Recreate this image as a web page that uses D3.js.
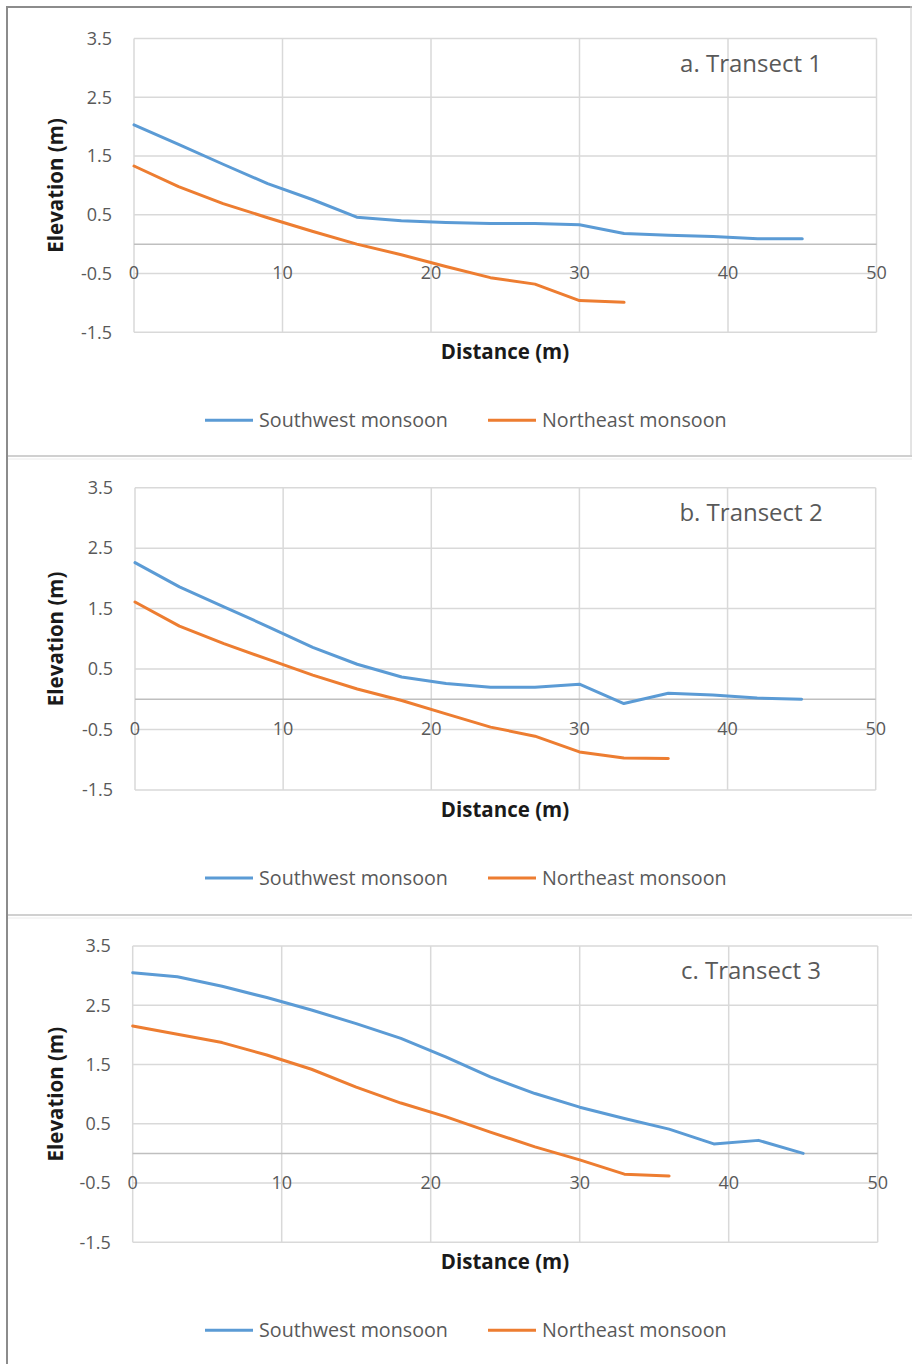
<!DOCTYPE html>
<html lang="en">
<head>
<meta charset="UTF-8">
<title>Beach profiles - Transects 1-3</title>
<script src="https://cdn.jsdelivr.net/npm/d3@7"></script>
<style>
    body{ margin:0; background:#fff; }
    text{ font-family:"Open Sans", sans-serif; }
    .tick-label{ fill:#595959; font-size:18px; }
    .axis-title{ fill:#1a1a1a; font-size:20.5px; font-weight:bold; }
    .legend-text{ fill:#595959; font-size:19.7px; }
    .panel-title{ fill:#595959; font-size:24px; }
</style>
</head>
<body>
<div class="container"></div>
<script>
    // distance along the transect (m), one survey point every 3 m
    const distance = [0,3,6,9,12,15,18,21,24,27,30,33,36,39,42,45]

    // elevations (m)
    const t1_southwest = [2.03,1.70,1.36,1.03,0.76,0.46,0.40,0.37,0.35,0.35,0.33,0.18,0.15,0.13,0.09,0.09]
    const t1_northeast = [1.33,0.98,0.69,0.45,0.22,0.00,-0.18,-0.38,-0.57,-0.68,-0.96,-0.99]
    const t2_southwest = [2.26,1.86,1.53,1.20,0.86,0.58,0.37,0.26,0.20,0.20,0.25,-0.07,0.10,0.07,0.02,0.00]
    const t2_northeast = [1.61,1.21,0.92,0.66,0.40,0.17,-0.02,-0.24,-0.46,-0.61,-0.87,-0.97,-0.98]
    const t3_southwest = [3.05,2.98,2.82,2.63,2.42,2.19,1.94,1.63,1.29,1.01,0.78,0.59,0.41,0.16,0.22,0.00]
    const t3_northeast = [2.15,2.01,1.87,1.66,1.42,1.12,0.85,0.62,0.36,0.11,-0.11,-0.35,-0.38]

    const panelTitles = ["a. Transect 1","b. Transect 2","c. Transect 3"]
    const seriesNames = ["Southwest monsoon","Northeast monsoon"]
    const seriesColors = ["#5b9bd5","#ed7d31"]
    const yTicks = [3.5,2.5,1.5,0.5,-0.5,-1.5]
    const xTicks = [0,10,20,30,40,50]

    const panels = [
        {title:panelTitles[0], sw:t1_southwest, ne:t1_northeast},
        {title:panelTitles[1], sw:t2_southwest, ne:t2_northeast},
        {title:panelTitles[2], sw:t3_southwest, ne:t3_northeast}
    ]
    // pixel frame of each plot area
    const frames = [
        {x0:134, x1:876.5, top:38.5, bottom:332.3},
        {x0:135, x1:875.7, top:487.7, bottom:790},
        {x0:132.7, x1:877.7, top:946, bottom:1242.3}
    ]

    const W = 912, H = 1364
    const svg = d3.select(".container").append("svg")
        .attr("width",W).attr("height",H)

    // outer frame and separators
    svg.append("line").attr("x1",7).attr("x2",7).attr("y1",6).attr("y2",H)
        .attr("stroke","#8c8c8c").attr("stroke-width",2)
    svg.append("line").attr("x1",6).attr("x2",W).attr("y1",7).attr("y2",7)
        .attr("stroke","#8c8c8c").attr("stroke-width",2)
    svg.append("line").attr("x1",W-1).attr("x2",W-1).attr("y1",6).attr("y2",456)
        .attr("stroke","#c8c8c8").attr("stroke-width",1)
    ;[456,915].forEach(y=>{
        svg.append("line").attr("x1",8).attr("x2",W).attr("y1",y).attr("y2",y)
            .attr("stroke","#d0d0d0").attr("stroke-width",2)
        svg.append("line").attr("x1",8).attr("x2",W).attr("y1",y+3).attr("y2",y+3)
            .attr("stroke","#ececec").attr("stroke-width",1)
    })

    panels.forEach((p,i)=>{
        const f = frames[i]
        const x = d3.scaleLinear().domain([0,50]).range([f.x0,f.x1])
        const y = d3.scaleLinear().domain([-1.5,3.5]).range([f.bottom,f.top])
        const g = svg.append("g")

        // horizontal gridlines
        g.selectAll(".hgrid").data(yTicks).join("line")
            .attr("x1",x(0)).attr("x2",x(50))
            .attr("y1",d=>y(d)).attr("y2",d=>y(d))
            .attr("stroke","#d9d9d9").attr("stroke-width",1.5)
        // vertical gridlines
        g.selectAll(".vgrid").data(xTicks).join("line")
            .attr("x1",d=>x(d)).attr("x2",d=>x(d))
            .attr("y1",y(3.5)).attr("y2",y(-1.5))
            .attr("stroke","#d9d9d9").attr("stroke-width",1.5)
        // horizontal axis crossing at zero
        g.append("line")
            .attr("x1",x(0)).attr("x2",x(50))
            .attr("y1",y(0)).attr("y2",y(0))
            .attr("stroke","#bfbfbf").attr("stroke-width",1.5)

        // y tick labels (plain hyphen for negatives, like the original)
        g.selectAll(".ylab").data(yTicks).join("text")
            .attr("class","tick-label")
            .attr("x",x(0)-22).attr("y",d=>y(d))
            .attr("dy","0.35em")
            .attr("text-anchor","end")
            .text(d=>d.toFixed(1))
        // x tick labels, placed under the zero axis
        g.selectAll(".xlab").data(xTicks).join("text")
            .attr("class","tick-label")
            .attr("x",d=>x(d)).attr("y",y(0)+29)
            .attr("dy","0.35em")
            .attr("text-anchor","middle")
            .text(d=>d)

        // axis titles
        g.append("text").attr("class","axis-title")
            .attr("transform",`translate(${56},${(f.top+f.bottom)/2})rotate(-90)`)
            .attr("dy","0.35em")
            .attr("text-anchor","middle")
            .text("Elevation (m)")
        g.append("text").attr("class","axis-title")
            .attr("x",505).attr("y",f.bottom+20)
            .attr("dy","0.35em")
            .attr("text-anchor","middle")
            .text("Distance (m)")

        // panel title
        g.append("text").attr("class","panel-title")
            .attr("x",751).attr("y",f.top+25)
            .attr("dy","0.35em")
            .attr("text-anchor","middle")
            .text(p.title)

        // series lines
        const line = d3.line().x(d=>x(d[0])).y(d=>y(d[1]))
        ;[p.sw,p.ne].forEach((vals,k)=>{
            g.append("path")
                .datum(vals.map((v,j)=>[distance[j],v]))
                .attr("d",line)
                .attr("fill","none")
                .attr("stroke",seriesColors[k])
                .attr("stroke-width",3)
                .attr("stroke-linejoin","round")
                .attr("stroke-linecap","round")
        })

        // legend
        const ly = f.bottom+88
        const legendX = [205,488]
        seriesNames.forEach((name,k)=>{
            g.append("line")
                .attr("x1",legendX[k]).attr("x2",legendX[k]+48)
                .attr("y1",ly).attr("y2",ly)
                .attr("stroke",seriesColors[k]).attr("stroke-width",3)
            g.append("text").attr("class","legend-text")
                .attr("x",legendX[k]+54).attr("y",ly)
                .attr("dy","0.35em")
                .text(name)
        })
    })
</script>
</body>
</html>
